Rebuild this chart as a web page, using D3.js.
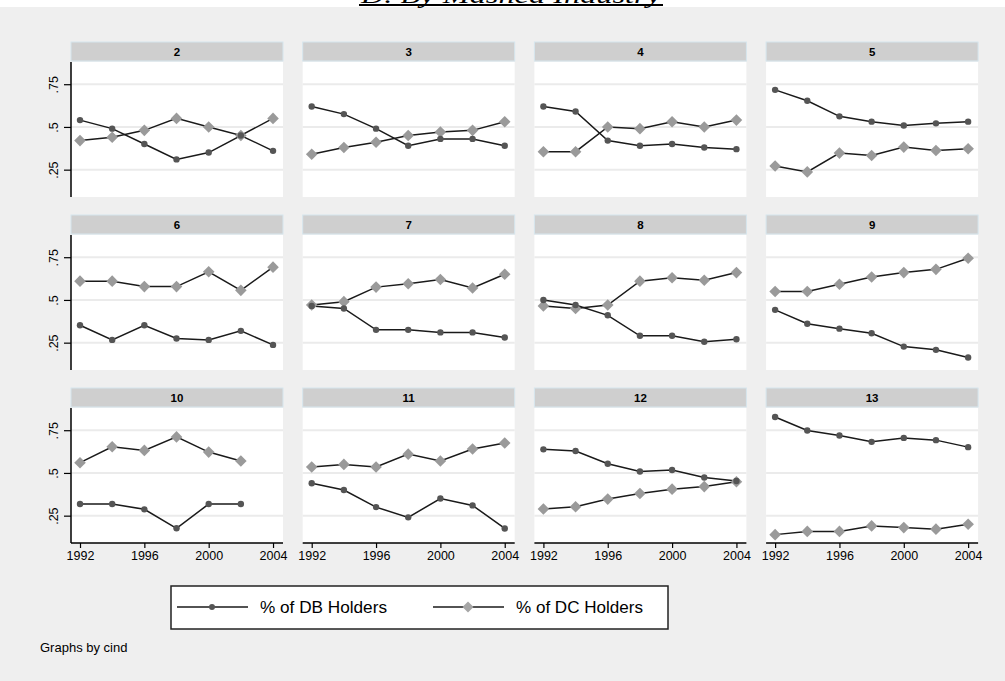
<!DOCTYPE html>
<html>
<head>
<meta charset="utf-8">
<style>
  body { margin: 0; background: #fff; }
  svg { display: block; }
  .strip-label { font-family: 'Liberation Sans', Arial, sans-serif; font-size: 11.5px; font-weight: bold; }
  .tick-label { font-family: 'Liberation Sans', Arial, sans-serif; font-size: 12.5px; }
  .legend-label { font-family: 'Liberation Sans', Arial, sans-serif; font-size: 17px; }
</style>
</head>
<body>
<svg width="1005" height="681"></svg>

<script src="https://d3js.org/d3.v7.min.js"></script>
<script>
    // data: one row per industry panel
    const years = [1992, 1994, 1996, 1998, 2000, 2002, 2004];
    const industries = ["2", "3", "4", "5", "6", "7", "8", "9", "10", "11", "12", "13"];
    const xTicks = [1992, 1996, 2000, 2004];
    const yTicks = [0.25, 0.5, 0.75];
    const yTickLabels = [".25", ".5", ".75"];
    const seriesNames = ["% of DB Holders", "% of DC Holders"];

    const dbShare = [
        [0.54, 0.49, 0.40, 0.31, 0.35, 0.45, 0.36],
        [0.62, 0.575, 0.49, 0.39, 0.43, 0.43, 0.39],
        [0.62, 0.59, 0.42, 0.39, 0.40, 0.38, 0.37],
        [0.717, 0.653, 0.562, 0.531, 0.508, 0.521, 0.531],
        [0.352, 0.266, 0.352, 0.274, 0.266, 0.319, 0.237],
        [0.465, 0.45, 0.325, 0.325, 0.31, 0.31, 0.28],
        [0.50, 0.47, 0.41, 0.29, 0.29, 0.255, 0.27],
        [0.442, 0.361, 0.332, 0.305, 0.227, 0.208, 0.163],
        [0.318, 0.318, 0.287, 0.176, 0.318, 0.318, null],
        [0.44, 0.40, 0.30, 0.24, 0.35, 0.31, 0.175],
        [0.638, 0.628, 0.554, 0.508, 0.517, 0.473, 0.453],
        [0.827, 0.748, 0.719, 0.682, 0.705, 0.692, 0.651]
    ];

    const dcShare = [
        [0.42, 0.44, 0.48, 0.55, 0.50, 0.45, 0.55],
        [0.34, 0.38, 0.41, 0.45, 0.47, 0.48, 0.53],
        [0.355, 0.355, 0.50, 0.49, 0.53, 0.50, 0.54],
        [0.271, 0.237, 0.347, 0.333, 0.382, 0.362, 0.372],
        [0.61, 0.61, 0.578, 0.578, 0.665, 0.556, 0.692],
        [0.47, 0.49, 0.575, 0.595, 0.62, 0.57, 0.65],
        [0.465, 0.45, 0.47, 0.61, 0.63, 0.615, 0.66],
        [0.549, 0.549, 0.592, 0.634, 0.66, 0.679, 0.744],
        [0.56, 0.653, 0.632, 0.711, 0.622, 0.57, null],
        [0.535, 0.55, 0.535, 0.61, 0.57, 0.64, 0.675],
        [0.289, 0.302, 0.347, 0.38, 0.405, 0.42, 0.448],
        [0.139, 0.158, 0.158, 0.19, 0.18, 0.171, 0.2]
    ];

    const width = 1005;
    const height = 681;
    const svg = d3.select("svg");

    // outer background + title (cut off at the top, as in the source)
    svg.append("rect").attr("x", 0).attr("y", 0).attr("width", width).attr("height", height).style("fill", "#fff");
    svg.append("rect").attr("x", 0).attr("y", 7).attr("width", width).attr("height", height - 7).style("fill", "#efefef");

    svg.append("text")
        .attr("x", 511).attr("y", 3)
        .attr("text-anchor", "middle")
        .attr("textLength", 300)
        .attr("lengthAdjust", "spacingAndGlyphs")
        .style("font-family", "'Liberation Serif', 'Times New Roman', serif")
        .style("font-style", "italic")
        .style("font-size", "24px")
        .text("D. By Mashed Industry");
    svg.append("line")
        .attr("x1", 359).attr("x2", 663).attr("y1", 5).attr("y2", 5)
        .style("stroke", "#000").style("stroke-width", 2);

    // panel grid
    const panelW = 212;
    const plotH = 135;
    const stripH = 19;
    const colLeft = c => 71 + c * 231.7;
    const rowTop = r => 42 + r * 173;

    const x = d3.scaleLinear().domain([1991.44, 2004.62]).range([0, panelW]);
    const y = d3.scaleLinear().domain([0.09, 0.88]).range([plotH, 0]);

    const line = d3.line()
        .defined(d => d.v != null)
        .x(d => x(d.year))
        .y(d => y(d.v));

    const diamond = s => `M0,${-s}L${s},0L0,${s}L${-s},0Z`;

    industries.forEach((ind, i) => {
        let col = i % 4;
        let row = Math.floor(i / 4);
        let g = svg.append("g")
            .attr("transform", `translate(${colLeft(col)},${rowTop(row)})`);

        // strip
        g.append("rect")
            .attr("x", 0).attr("y", 0)
            .attr("width", panelW).attr("height", stripH)
            .style("fill", "#cfcfcf")
            .style("stroke", "#d6e6ee")
            .style("stroke-width", 1);
        g.append("text")
            .attr("class", "strip-label")
            .attr("x", panelW / 2).attr("y", 14)
            .attr("text-anchor", "middle")
            .text(ind);

        let p = g.append("g").attr("transform", `translate(0,${stripH + 1})`);

        p.append("rect")
            .attr("width", panelW).attr("height", plotH)
            .style("fill", "#fff");

        p.selectAll(".grid")
            .data(yTicks)
            .join("line")
            .attr("x1", 0).attr("x2", panelW)
            .attr("y1", d => y(d)).attr("y2", d => y(d))
            .style("stroke", "#ebebeb")
            .style("stroke-width", 2);

        // y axis only on first column
        if (col === 0) {
            let ya = p.append("g")
                .call(d3.axisLeft(y).tickValues(yTicks).tickSize(7).tickFormat((d, k) => yTickLabels[k]));
            ya.select(".domain").attr("d", `M0,0V${plotH}`).style("stroke", "#000").style("stroke-width", 1.5);
            ya.selectAll(".tick line").style("stroke", "#000").style("stroke-width", 1.2);
            ya.selectAll(".tick text")
                .attr("class", "tick-label")
                .attr("transform", "rotate(-90)")
                .attr("x", 0).attr("y", -17)
                .attr("dy", "0.35em")
                .attr("text-anchor", "middle");
        }

        // x axis only on bottom row
        if (row === 2) {
            let xa = p.append("g")
                .attr("transform", `translate(0,${plotH})`)
                .call(d3.axisBottom(x).tickValues(xTicks).tickSize(5).tickFormat(d3.format("d")));
            xa.select(".domain").attr("d", `M0,0H${panelW}`).style("stroke", "#000").style("stroke-width", 1.5);
            xa.selectAll(".tick line").style("stroke", "#000").style("stroke-width", 1.2);
            xa.selectAll(".tick text").attr("class", "tick-label").attr("y", 8);
        }

        let db = years.map((yr, k) => ({ year: yr, v: dbShare[i][k] }));
        let dc = years.map((yr, k) => ({ year: yr, v: dcShare[i][k] }));

        p.append("path").datum(db).attr("d", line)
            .style("fill", "none").style("stroke", "#1a1a1a").style("stroke-width", 1.5);
        p.append("path").datum(dc).attr("d", line)
            .style("fill", "none").style("stroke", "#1a1a1a").style("stroke-width", 1.5);

        p.selectAll(".dc")
            .data(dc.filter(d => d.v != null))
            .join("path")
            .attr("d", diamond(5.8))
            .attr("transform", d => `translate(${x(d.year)},${y(d.v)})`)
            .style("fill", "#9a9a9a");

        p.selectAll(".db")
            .data(db.filter(d => d.v != null))
            .join("circle")
            .attr("cx", d => x(d.year))
            .attr("cy", d => y(d.v))
            .attr("r", 3.2)
            .style("fill", "#555");
    });

    // legend
    let lg = svg.append("g").attr("transform", "translate(171,586)");
    lg.append("rect")
        .attr("width", 497).attr("height", 43)
        .style("fill", "#fff").style("stroke", "#222").style("stroke-width", 1.5);

    let items = lg.selectAll(".item")
        .data(seriesNames)
        .join("g")
        .attr("transform", (d, k) => `translate(${6 + k * 256},21)`);
    items.append("line")
        .attr("x1", 0).attr("x2", 71)
        .style("stroke", "#1a1a1a").style("stroke-width", 1.4);
    items.each(function (d, k) {
        let it = d3.select(this);
        if (k === 0) {
            it.append("circle").attr("cx", 35).attr("r", 3).style("fill", "#555");
        } else {
            it.append("path").attr("d", diamond(5.5)).attr("transform", "translate(35,0)").style("fill", "#a6a6a6");
        }
    });
    items.append("text")
        .attr("class", "legend-label")
        .attr("x", 83).attr("y", 6)
        .attr("textLength", 127)
        .attr("lengthAdjust", "spacingAndGlyphs")
        .text(d => d);

    svg.append("text")
        .attr("x", 40).attr("y", 652)
        .style("font-family", "'Liberation Sans', Arial, sans-serif")
        .style("font-size", "13px")
        .text("Graphs by cind");
</script>
</body>
</html>
